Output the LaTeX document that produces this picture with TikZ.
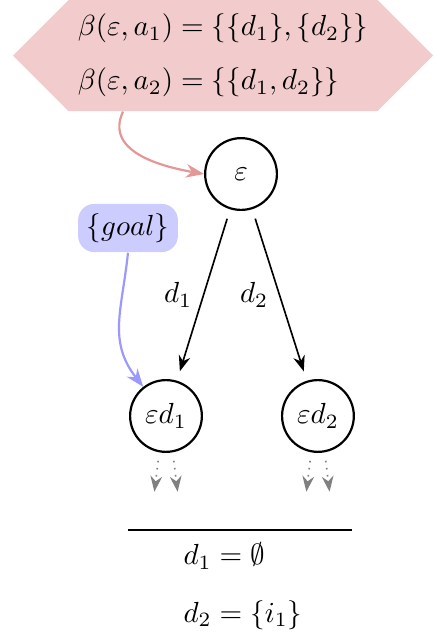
\RequirePackage{fix-cm}
\documentclass[tikz,border=0pt]{standalone}
\usepackage{amsmath,amssymb}
\usetikzlibrary{shapes,arrows.meta,positioning,calc}
\definecolor{betafill}{RGB}{242,204,204}
\definecolor{betaline}{RGB}{229,150,150}

\begin{document}
\begin{tikzpicture}[
  font=\fontsize{10.6}{12.7}\selectfont,
  state/.style={circle, draw, thick, minimum size=0.92cm, inner sep=0pt},
  betabox/.style={signal, signal to=west and east, signal pointer angle=90,
                  fill=betafill, minimum width=5.385cm, minimum height=1.423cm,
                  align=left, inner sep=0pt},
  goalbox/.style={rectangle, rounded corners=6pt, fill=blue!20,
                  minimum width=1.28cm, minimum height=0.62cm, inner sep=2pt},
  branch/.style={draw, -{Stealth}, semithick, shorten <=3.6pt, shorten >=3.6pt},
  leafedge/.style={draw, -{Stealth}, gray, dotted, semithick},
  betalink/.style={draw, -{Stealth}, thick, betaline},
  goallink/.style={draw, -{Stealth}, thick, blue!40},
]
  \useasboundingbox (0,0) rectangle (5.564,-8.192);

  % belief box
  \node[betabox] (beta) at (2.859,-0.712)
       {$\beta(\varepsilon,a_1) = \{\{d_1\},\{d_2\}\}$\\[7pt]
        $\beta(\varepsilon,a_2) = \{\{d_1,d_2\}\}$};

  % tree
  \node[state] (root) at (3.09,-2.231) {$\varepsilon$};
  \node[state] (e1) at (2.128,-5.333) {$\varepsilon d_1$};
  \node[state, right=1.0cm of e1] (e2) {$\varepsilon d_2$};
  \node[goalbox] (goal) at (1.641,-2.923) {$\{goal\}$};

  \draw[branch] (root) -- node[midway, left=0.5pt] {$d_1$} (e1);
  \draw[branch] (root) -- node[midway, left=0.5pt] {$d_2$} (e2);

  \draw[betalink] ([xshift=-1.282cm]beta.south) to[out=-115, in=170, looseness=1.1] (root.west);
  \draw[goallink] (goal.south) to[out=-96, in=128, looseness=1.1] (e1);

  % open branches
  \foreach \n in {e1,e2} {
    \draw[leafedge] ([xshift=-0.1cm,yshift=-0.1cm]\n.south) -- ++(263:0.4);
    \draw[leafedge] ([xshift=0.1cm,yshift=-0.1cm]\n.south) -- ++(277:0.4);
  }

  % result
  \coordinate (ruleL) at (1.641,-6.795);
  \coordinate (ruleR) at (4.513,-6.795);
  \draw[thick] (ruleL) -- (ruleR);
  \node[anchor=west] (res1) at (2.229,-7.128) {$d_1 = \emptyset$};
  \node[anchor=west] (res2) at (2.229,-7.885) {$d_2 = \{i_1\}$};

\end{tikzpicture}
\end{document}
